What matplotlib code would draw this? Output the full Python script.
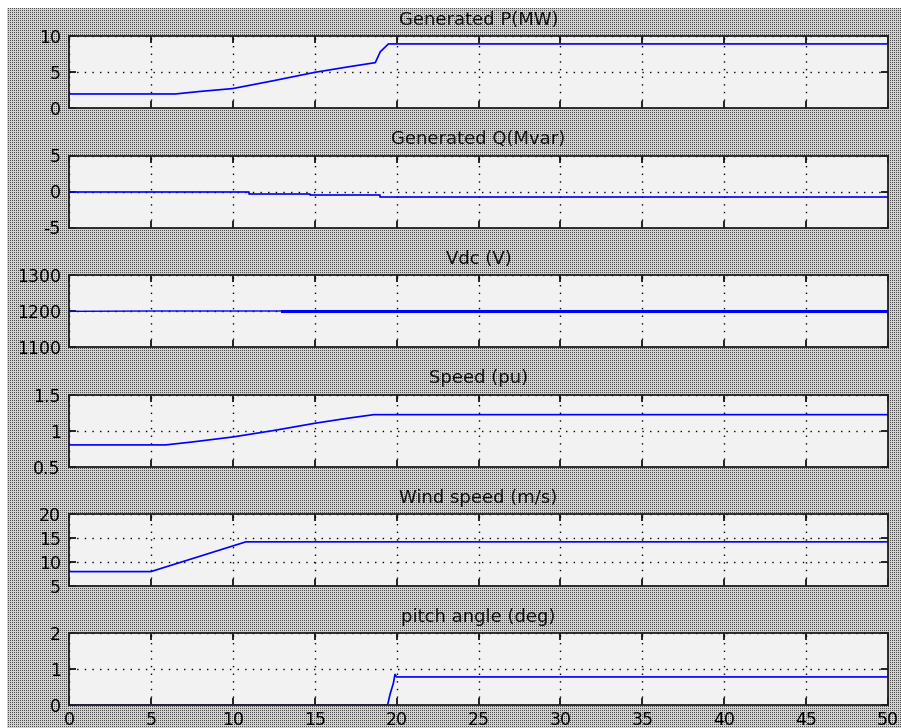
import numpy as np
import matplotlib
matplotlib.use("Agg")
import matplotlib.pyplot as plt

# ---- data ----
titles = ["Generated P(MW)", "Generated Q(Mvar)", "Vdc (V)", "Speed (pu)",
          "Wind speed (m/s)", "pitch angle (deg)"]

t_P = [0, 0.001, 6.5, 8, 10, 12.5, 15, 17, 18.7, 19.0, 19.5, 50]
P = [0, 1.95, 1.95, 2.3, 2.7, 3.8, 4.95, 5.7, 6.3, 7.8, 8.9, 8.9]

t_Q = [0, 11, 11, 14.7, 14.7, 19, 19, 50]
Q = [0, 0, -0.28, -0.28, -0.46, -0.46, -0.74, -0.74]

t_V = [0, 5, 13, 50]
Vdc = [1199, 1200, 1200, 1200]

t_W = [0, 5.9, 7.5, 10, 12.5, 15, 17, 18.6, 50]
speed = [0.8, 0.8, 0.84, 0.91, 1.0, 1.1, 1.17, 1.22, 1.22]

t_U = [0, 5, 10.8, 50]
wind = [8, 8, 14.2, 14.2]

t_B = [0, 19.45, 19.6, 19.8, 19.9, 20.0, 50]
pitch = [0, 0, 0.3, 0.6, 0.85, 0.78, 0.78]

xticks = [0, 5, 10, 15, 20, 25, 30, 35, 40, 45, 50]
yticks = [[0, 5, 10], [-5, 0, 5], [1100, 1200, 1300], [0.5, 1, 1.5],
          [5, 10, 15, 20], [0, 1, 2]]
ytick_labels = [["0", "5", "10"], ["-5", "0", "5"], ["1100", "1200", "1300"],
                ["0.5", "1", "1.5"], ["5", "10", "15", "20"], ["0", "1", "2"]]
ylims = [(0, 10), (-5, 5), (1100, 1300), (0.5, 1.5), (5, 20), (0, 2)]

series = [(t_P, P), (t_Q, Q), (t_V, Vdc), (t_W, speed), (t_U, wind), (t_B, pitch)]

# ---- figure ----
W, H = 901, 728
fig = plt.figure(figsize=(W / 100, H / 100), dpi=100)
fig.patch.set_facecolor("white")

# halftone-like background
bg = np.full((H, W), 0.82)
bg[::2, ::2] = 0.3
bg[:8, :] = 1.0
bg[:, :7] = 1.0
rgb = np.dstack([bg, bg, bg])
fig.figimage(rgb, xo=0, yo=0, origin="upper", zorder=-10)

left = 69 / W
width = (888 - 69) / W
ph = 72 / H
tops = [36, 155.5, 275, 394.5, 514, 633]

for i, top in enumerate(tops):
    ax = fig.add_axes([left, 1 - (top + 72) / H, width, ph])
    ax.set_zorder(5)
    ax.set_facecolor("#f2f2f2")
    t, y = series[i]
    if i == 2:
        ax.plot(t, y, color="#0000ff", lw=1.0)
        ax.plot(t[2:], y[2:], color="#0000ff", lw=2.2)
    else:
        ax.plot(t, y, color="#0000ff", lw=1.2)
    ax.set_xlim(0, 50)
    ax.set_ylim(*ylims[i])
    ax.set_xticks(xticks)
    ax.set_yticks(yticks[i])
    ax.set_yticklabels(ytick_labels[i])
    if i < 5:
        ax.set_xticklabels([])
    ax.tick_params(direction="in", length=5, width=1.2, top=True, right=True,
                   labelsize=12.5, pad=6, colors="black")
    ax.tick_params(axis="x", pad=4)
    ax.grid(True, color="black", linestyle=(0, (1, 4.5)), linewidth=1.0)
    for s in ax.spines.values():
        s.set_linewidth(1.3)
        s.set_color("#202020")
    ax.set_title(titles[i], fontsize=13, pad=8, color="#111111")

fig.savefig("out.png", dpi=100)
